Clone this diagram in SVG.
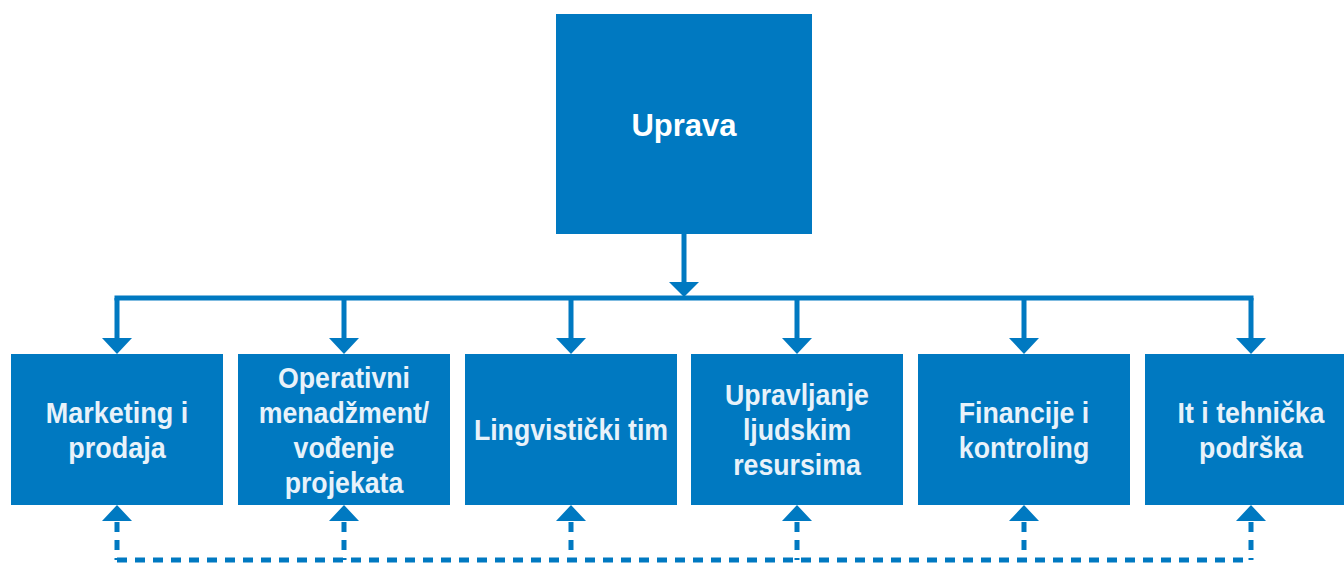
<svg xmlns="http://www.w3.org/2000/svg" width="1344" height="563" viewBox="0 0 1344 563">
<defs>
<style>
.box{fill:#0079c1}
.t{font-family:"Liberation Sans",Arial,sans-serif;font-weight:bold;fill:#e8f2fa;text-anchor:middle;font-size:30px}
.top{font-family:"Liberation Sans",Arial,sans-serif;font-weight:bold;fill:#ffffff;text-anchor:middle;font-size:31px}
.ln{stroke:#0079c1;stroke-width:5;fill:none}
.dl{stroke:#0079c1;stroke-width:5;fill:none;stroke-dasharray:10 8}
.ah{fill:#0079c1}
</style>
</defs>
<rect width="1344" height="563" fill="#ffffff"/>
<g id="connectors">
<path class="ln" d="M684 234V284"/>
<polygon class="ah" points="669,282 699,282 684,297"/>
<path class="ln" d="M114.5 298H1253.5"/>
<path class="ln" d="M117 298V340M344 298V340M571 298V340M797 298V340M1024 298V340M1251 298V340"/>
<polygon class="ah" points="102,338 132,338 117,354"/>
<polygon class="ah" points="329,338 359,338 344,354"/>
<polygon class="ah" points="556,338 586,338 571,354"/>
<polygon class="ah" points="782,338 812,338 797,354"/>
<polygon class="ah" points="1009,338 1039,338 1024,354"/>
<polygon class="ah" points="1236,338 1266,338 1251,354"/>
<polygon class="ah" points="102,521 132,521 117,505"/>
<polygon class="ah" points="329,521 359,521 344,505"/>
<polygon class="ah" points="556,521 586,521 571,505"/>
<polygon class="ah" points="782,521 812,521 797,505"/>
<polygon class="ah" points="1009,521 1039,521 1024,505"/>
<polygon class="ah" points="1236,521 1266,521 1251,505"/>
<path class="dl" d="M117 522V560M344 522V560M571 522V560M797 522V560M1024 522V560M1251 522V560"/>
<path class="dl" d="M117 560H1251"/>
</g>
<g id="uprava">
<rect class="box" x="556" y="14" width="256" height="220"/>
<text class="top" x="684" y="136">Uprava</text>
</g>
<g id="marketing">
<rect class="box" x="11" y="354" width="212" height="151"/>
<text class="t" transform="translate(117,0) scale(0.9,1)" x="0" y="423">Marketing i</text>
<text class="t" transform="translate(117,0) scale(0.9,1)" x="0" y="458">prodaja</text>
</g>
<g id="operativni">
<rect class="box" x="238" y="354" width="212" height="151"/>
<text class="t" transform="translate(344,0) scale(0.89,1)" x="0" y="388">Operativni</text>
<text class="t" transform="translate(344,0) scale(0.89,1)" x="0" y="423">menadžment/</text>
<text class="t" transform="translate(344,0) scale(0.89,1)" x="0" y="458">vođenje</text>
<text class="t" transform="translate(344,0) scale(0.89,1)" x="0" y="493">projekata</text>
</g>
<g id="lingvisticki">
<rect class="box" x="465" y="354" width="212" height="151"/>
<text class="t" transform="translate(571,0) scale(0.89,1)" x="0" y="440">Lingvistički tim</text>
</g>
<g id="ljudski">
<rect class="box" x="691" y="354" width="212" height="151"/>
<text class="t" transform="translate(797,0) scale(0.89,1)" x="0" y="405">Upravljanje</text>
<text class="t" transform="translate(797,0) scale(0.89,1)" x="0" y="440">ljudskim</text>
<text class="t" transform="translate(797,0) scale(0.89,1)" x="0" y="475">resursima</text>
</g>
<g id="financije">
<rect class="box" x="918" y="354" width="212" height="151"/>
<text class="t" transform="translate(1024,0) scale(0.89,1)" x="0" y="423">Financije i</text>
<text class="t" transform="translate(1024,0) scale(0.89,1)" x="0" y="458">kontroling</text>
</g>
<g id="it">
<rect class="box" x="1145" y="354" width="212" height="151"/>
<text class="t" transform="translate(1251,0) scale(0.89,1)" x="0" y="423">It i tehnička</text>
<text class="t" transform="translate(1251,0) scale(0.89,1)" x="0" y="458">podrška</text>
</g>
</svg>
